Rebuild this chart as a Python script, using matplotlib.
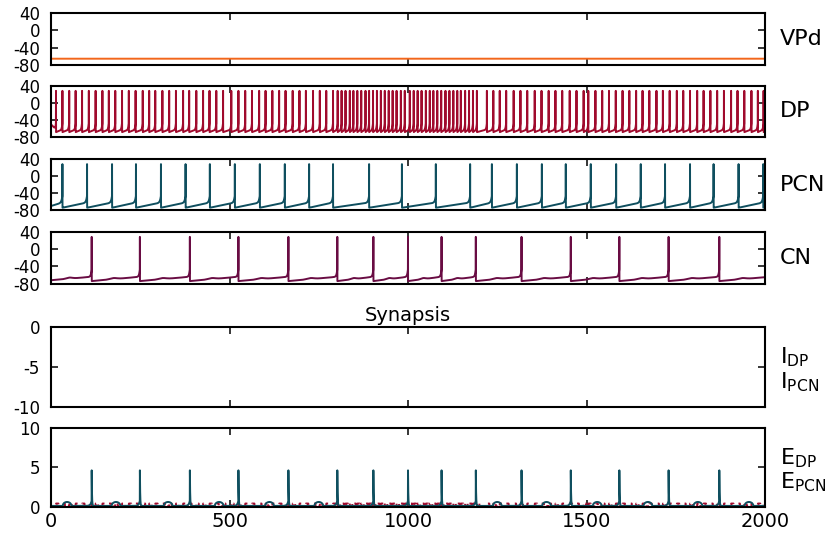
import numpy as np
import matplotlib.pyplot as plt

plt.rcParams["axes.unicode_minus"] = False

# spike times (ms) of each cell
dp_spikes = [14, 32, 51, 69, 87, 106, 125, 144, 162, 180, 199, 218, 237, 257,
             275, 292, 312, 331, 350, 370, 387, 407, 426, 444, 463, 482,
             505, 525, 544, 563, 583, 601, 620, 639, 657, 677, 696, 714, 734,
             753, 771, 790, 803, 814, 825, 837, 847, 858, 869, 881, 891, 902,
             913, 924, 935, 946, 957, 968, 980, 991, 1005, 1016, 1027, 1038,
             1050, 1061, 1071, 1082, 1093, 1105, 1116, 1127, 1138, 1148, 1160,
             1171, 1182, 1193, 1221, 1239, 1257, 1275, 1296, 1315, 1334, 1355,
             1374, 1394, 1413, 1432, 1453, 1472, 1492, 1505, 1525, 1544, 1563,
             1582, 1601, 1620, 1639, 1657, 1676, 1696, 1714, 1733, 1753, 1771,
             1790, 1810, 1828, 1847, 1866, 1885, 1905, 1923, 1942, 1962, 1980,
             1996]
pcn_spikes = [32, 101, 171, 238, 308, 377, 445, 515, 585, 655, 723, 790, 891,
              983, 1078, 1174, 1235, 1305, 1375, 1442, 1512, 1583, 1652, 1720,
              1790, 1856, 1926, 1995]
cn_spikes = [114, 249, 389, 525, 665, 802, 903, 1000, 1094, 1190, 1318, 1456,
             1592, 1730, 1872]

vpd_rest = -66.0

# excitatory synapse onto PCN: peaks and slow plateaus
e_pcn_peaks = [114, 249, 389, 525, 665, 802, 903, 1000, 1094, 1190, 1318,
               1456, 1592, 1730, 1872]
e_pcn_peak_height = 4.5
e_pcn_plateaus = [33, 170, 316, 459, 600, 738, 1238, 1376, 1518, 1660, 1800,
                  1943]
e_pcn_plateau_height = 0.6
e_dp_pulse_height = 0.4

t = np.arange(0, 2000.25, 0.25)


def membrane(spikes, v_start, v_reset, v_pre, v_peak, tau_up, v_thr=-45.0,
             bump=0.0):
    v = np.empty_like(t)
    bounds = [t[0]] + list(spikes)
    bounds.append(spikes[-1] + (spikes[-1] - spikes[-2]))
    for i in range(len(bounds) - 1):
        a, b = bounds[i], bounds[i + 1]
        m = (t >= a) & (t < b)
        tt = t[m]
        lo = v_start if i == 0 else v_reset
        frac = (tt - a) / (b - a)
        v[m] = (lo + (v_pre - lo) * frac
                + (v_thr - v_pre) * np.exp((tt - b) / tau_up)
                + bump * np.exp(-((frac - 0.45) / 0.1) ** 2))
    m = t >= bounds[-1]
    v[m] = v_reset
    for s in spikes:
        v[np.argmin(np.abs(t - s))] = v_peak
    return v


vpd = np.full_like(t, vpd_rest)
dp = membrane(dp_spikes, -50, -68, -62, 28, 1.5)
pcn = membrane(pcn_spikes, -70, -74, -62, 28, 2.5)
cn = membrane(cn_spikes, -72, -74, -64, 28, 2.0, bump=2.5)

# DP synaptic drive: short square pulses after each DP spike
e_dp = np.full_like(t, 0.05)
for s in dp_spikes:
    m = (t >= s) & (t < s + 7)
    e_dp[m] = e_dp_pulse_height

e_pcn = np.full_like(t, 0.1)
for s in e_pcn_peaks:
    pre = (t < s) & (t > s - 15)
    e_pcn[pre] += 0.7 * np.exp((t[pre] - s) / 3.0)
    post = t >= s
    e_pcn[post] += e_pcn_peak_height * np.exp(-(t[post] - s) / 0.8)
for s in e_pcn_plateaus:
    m = (t >= s) & (t < s + 24)
    ph = (t[m] - s) / 24
    e_pcn[m] += (e_pcn_plateau_height - 0.1) * np.sin(np.pi * ph) ** 0.4

c_vpd = "#f2661b"
c_dp = "#a00a2d"
c_pcn = "#0f4f5f"
c_cn = "#690c43"

W, H = 830, 539
fig = plt.figure(figsize=(W / 100, H / 100), dpi=100)

panels = [(13.3, 64.7), (85.7, 137.3), (159, 210.3), (231.7, 283.7),
          (326.7, 406.7), (427.7, 506.7)]
left, right = 51, 765
axes = []
for top, bot in panels:
    ax = fig.add_axes([left / W, 1 - bot / H, (right - left) / W, (bot - top) / H])
    ax.set_xlim(0, 2000)
    ax.set_xticks([0, 500, 1000, 1500, 2000])
    ax.tick_params(direction="in", top=True, right=True, length=5, width=1.1,
                   labelsize=12, pad=8)
    ax.tick_params(axis="x", labelsize=14, pad=4)
    for sp in ax.spines.values():
        sp.set_linewidth(1.5)
    axes.append(ax)

for ax in axes[:4]:
    ax.set_ylim(-80, 40)
    ax.set_yticks([-80, -40, 0, 40])
for ax in axes[:-1]:
    ax.tick_params(labelbottom=False)

lw = 1.4
axes[0].plot(t, vpd, color=c_vpd, lw=lw)
axes[1].plot(t, dp, color=c_dp, lw=lw)
axes[2].plot(t, pcn, color=c_pcn, lw=lw)
axes[3].plot(t, cn, color=c_cn, lw=lw)

axes[4].set_ylim(-10, 0)
axes[4].set_yticks([-10, -5, 0])
axes[4].set_title("Synapsis", fontsize=14, pad=4)

axes[5].set_ylim(0, 10)
axes[5].set_yticks([0, 5, 10])
axes[5].plot(t, e_dp, color=c_dp, lw=lw, ls=(0, (2, 1.5)))
axes[5].plot(t, e_pcn, color=c_pcn, lw=lw)

for ax, name in zip(axes[:4], ["VPd", "DP", "PCN", "CN"]):
    ax.text(1.021, 0.5, name, transform=ax.transAxes, fontsize=16,
            va="center", ha="left")

axes[4].text(1.021, 0.62, r"$\mathregular{I_{DP}}$", transform=axes[4].transAxes,
             fontsize=16, va="center", ha="left")
axes[4].text(1.021, 0.31, r"$\mathregular{I_{PCN}}$", transform=axes[4].transAxes,
             fontsize=16, va="center", ha="left")
axes[5].text(1.021, 0.62, r"$\mathregular{E_{DP}}$", transform=axes[5].transAxes,
             fontsize=16, va="center", ha="left")
axes[5].text(1.021, 0.31, r"$\mathregular{E_{PCN}}$", transform=axes[5].transAxes,
             fontsize=16, va="center", ha="left")

fig.savefig("out.png", dpi=100)
